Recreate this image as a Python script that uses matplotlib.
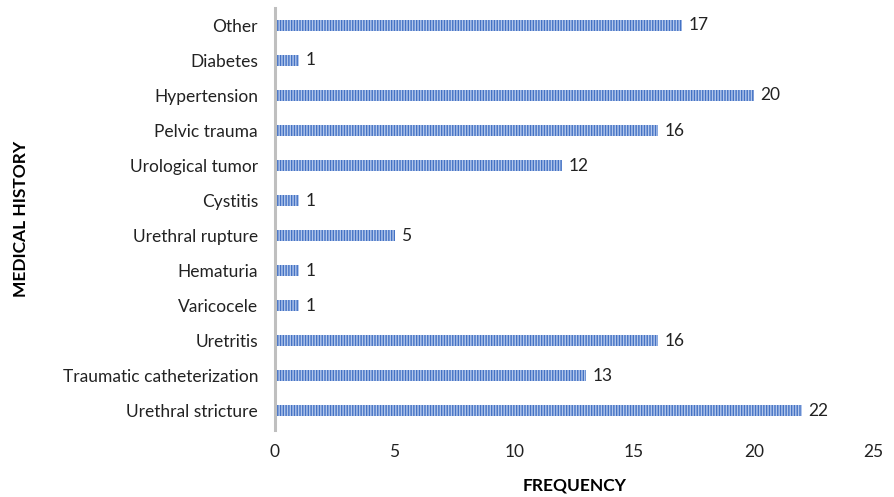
import matplotlib
matplotlib.use("Agg")
import matplotlib.pyplot as plt

categories = ["Urethral stricture", "Traumatic catheterization", "Uretritis",
              "Varicocele", "Hematuria", "Urethral rupture", "Cystitis",
              "Urological tumor", "Pelvic trauma", "Hypertension", "Diabetes", "Other"]
frequency = [22, 13, 16, 1, 1, 5, 1, 12, 16, 20, 1, 17]
xticks = [0, 5, 10, 15, 20, 25]

plt.rcParams["font.family"] = ["Lato", "DejaVu Sans"]
plt.rcParams["hatch.linewidth"] = 1.0

fig = plt.figure(figsize=(8.95, 4.97), dpi=100)
ax = fig.add_axes([0.307, 0.135, 0.669, 0.849])

pos = list(range(len(categories)))
bars = ax.barh(pos, frequency, height=0.3, color="#4472C4",
               edgecolor="#B4C8EC", linewidth=0, hatch="||||||")

for y, v in zip(pos, frequency):
    ax.text(v + 0.28, y, str(v), va="center", ha="left", fontsize=12.5, color="#222222")

ax.set_xlim(0, 25)
ax.set_ylim(-0.55, 11.5)
ax.set_xticks(xticks)
ax.set_yticks(pos)
ax.set_yticklabels(categories)
ax.tick_params(axis="both", length=0, labelsize=12.5, colors="#222222")
ax.tick_params(axis="x", pad=10)
ax.tick_params(axis="y", pad=12)

for s in ["top", "right", "bottom"]:
    ax.spines[s].set_visible(False)
ax.spines["left"].set_color("#BFBFBF")
ax.spines["left"].set_linewidth(2.2)

ax.set_xlabel("FREQUENCY", fontsize=12.5, fontweight="bold", labelpad=13)
ax.set_ylabel("MEDICAL HISTORY", fontsize=12.5, fontweight="bold", labelpad=24)

fig.savefig("out.png", dpi=100)
